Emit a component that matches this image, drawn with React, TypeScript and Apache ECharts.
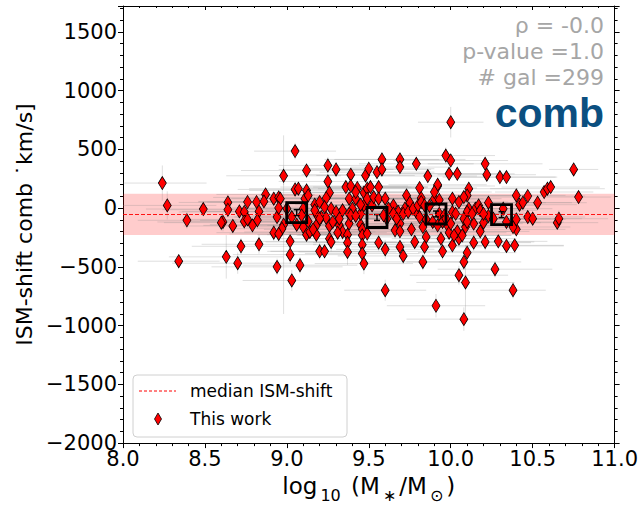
import React, { useEffect, useRef } from "react";
import * as echarts from "echarts";

// [log10 M*, ISM-shift (km/s), x error, y error]
const galaxies: number[][] = [
  [8.24, 213, 0.27, 150], [8.27, 23, 0.3, 120], [8.49, -8, 0.35, 60], [8.39, -104, 0.3, 70],
  [8.34, -452, 0.25, 60], [8.61, -118, 0.4, 80], [8.6, -124, 0.35, 70], [8.64, 48, 0.3, 60],
  [8.64, -14, 0.4, 50], [8.67, -152, 0.3, 60], [8.63, -415, 0.35, 185], [8.72, -325, 0.3, 70],
  [8.7, -469, 0.4, 90], [8.71, -28, 0.35, 60], [8.74, -33, 0.4, 50], [8.76, 52, 0.3, 60],
  [8.74, -113, 0.35, 70], [8.76, -96, 0.4, 60],
  [8.815, 52, 0.3, 50], [8.83, -28, 0.35, 60], [8.87, 116, 0.3, 50], [8.86, 57, 0.4, 60],
  [8.82, -104, 0.35, 70], [8.79, -147, 0.3, 60], [8.83, -308, 0.35, 80], [8.92, 80, 0.3, 50],
  [8.95, 91, 0.4, 60], [8.96, 80, 0.3, 50], [8.94, -76, 0.35, 60], [8.95, 1, 0.3, 70],
  [8.98, -141, 0.45, 760], [8.97, -175, 0.3, 60], [8.92, -209, 0.35, 70], [8.95, -220, 0.3, 60],
  [8.98, 275, 0.35, 80], [8.94, -500, 0.4, 70], [9.02, -283, 0.3, 60], [9.02, -396, 0.35, 80],
  [9.03, -616, 0.3, 90], [9.05, 485, 0.25, 70], [9.05, 159, 0.35, 60], [9.07, 165, 0.3, 50],
  [9.08, -486, 0.35, 70], [9.06, -141, 0.3, 60], [9.12, 320, 0.4, 60], [9.11, 80, 0.3, 50],
  [9.12, 150, 0.35, 60], [9.13, 108, 0.3, 50], [9.1, -161, 0.35, 70], [9.12, -226, 0.3, 60],
  [9.14, -203, 0.4, 60], [9.18, -147, 0.3, 50], [9.18, -48, 0.35, 60], [9.18, -226, 0.3, 70],
  [9.17, 29, 0.35, 60], [9.2, 52, 0.3, 50], [9.21, -76, 0.4, 60], [9.25, 363, 0.3, 70],
  [9.3, 329, 0.35, 60], [9.25, 227, 0.3, 60], [9.26, 131, 0.35, 50], [9.24, 86, 0.3, 60],
  [9.23, 9, 0.4, 50], [9.27, -5, 0.3, 60], [9.3, -33, 0.35, 50], [9.24, -84, 0.3, 60],
  [9.26, -152, 0.35, 70], [9.26, -260, 0.3, 60], [9.27, -288, 0.4, 80], [9.2, -368, 0.3, 70],
  [9.23, -368, 0.35, 60], [9.32, -147, 0.3, 60], [9.34, -203, 0.35, 70], [9.31, -209, 0.3, 60],
  [9.36, 179, 0.4, 60], [9.39, 284, 0.3, 50], [9.39, 188, 0.35, 60], [9.38, 80, 0.3, 50],
  [9.4, -5, 0.35, 60], [9.38, -48, 0.3, 50], [9.38, -132, 0.4, 60], [9.37, -226, 0.3, 70],
  [9.37, -294, 0.35, 60], [9.37, -373, 0.3, 110], [9.43, 171, 0.35, 60], [9.42, 80, 0.3, 50],
  [9.45, -141, 0.35, 60], [9.46, -181, 0.3, 70], [9.46, -232, 0.4, 60], [9.46, -311, 0.3, 80],
  [9.46, -387, 0.35, 70], [9.47, -472, 0.3, 90], [9.47, 131, 0.35, 60], [9.48, 278, 0.3, 60],
  [9.5, 335, 0.4, 60], [9.49, 165, 0.3, 50], [9.51, 179, 0.35, 60], [9.47, 23, 0.3, 50],
  [9.45, -48, 0.35, 60], [9.49, -217, 0.3, 70], [9.55, 306, 0.35, 60], [9.56, 179, 0.3, 50],
  [9.56, -294, 0.4, 70], [9.42, 137, 0.3, 60],
  [9.49, 80, 0.35, 50], [9.52, 23, 0.3, 60], [9.53, 94, 0.35, 50], [9.56, 80, 0.3, 60],
  [9.45, 29, 0.4, 50], [9.39, -62, 0.3, 60], [9.42, -67, 0.35, 50], [9.34, -19, 0.3, 60],
  [9.32, -90, 0.35, 50], [9.28, -118, 0.3, 60], [9.2, -90, 0.4, 50], [9.17, -19, 0.3, 60],
  [9.1, -5, 0.35, 50], [9.09, -62, 0.3, 60], [9.03, -76, 0.35, 50], [9.0, -5, 0.3, 60],
  [9.13, -113, 0.35, 50], [9.16, -181, 0.3, 60],
  [9.58, 414, 0.35, 60], [9.58, 329, 0.3, 60], [9.69, 414, 0.4, 60], [9.69, 349, 0.3, 50],
  [9.79, 377, 0.35, 60], [9.86, 273, 0.3, 60], [9.81, 171, 0.35, 50], [9.82, 86, 0.3, 60],
  [9.73, 108, 0.35, 50], [9.75, 46, 0.3, 60], [9.72, -5, 0.4, 50], [9.68, -33, 0.3, 60],
  [9.65, 23, 0.35, 50], [9.62, -5, 0.3, 60], [9.6, 80, 0.35, 50], [9.61, -90, 0.3, 60],
  [9.66, -189, 0.35, 70], [9.69, -132, 0.3, 60], [9.69, -198, 0.4, 60], [9.79, -33, 0.3, 50],
  [9.76, -181, 0.35, 60], [9.83, -161, 0.3, 60], [9.85, -245, 0.35, 70], [9.78, -288, 0.3, 60],
  [9.84, -330, 0.35, 70], [9.69, -330, 0.3, 60], [9.71, -407, 0.4, 70], [9.6, -351, 0.3, 80],
  [9.83, -458, 0.35, 70], [9.6, -699, 0.25, 90], [9.91, -831, 0.3, 100], [9.92, 188, 0.35, 60],
  [9.9, 80, 0.3, 50], [9.87, 18, 0.35, 60], [9.93, 70, 0.3, 50], [9.93, -48, 0.35, 60],
  [9.94, -260, 0.3, 60], [9.95, -368, 0.35, 70], [9.97, 447, 0.3, 70], [10.0, 405, 0.35, 60],
  [10.0, 731, 0.2, 130], [9.99, 292, 0.3, 60], [10.04, 292, 0.35, 60], [9.98, -147, 0.3, 50],
  [9.99, -209, 0.35, 60], [10.01, 80, 0.3, 50], [10.01, -33, 0.35, 60], [10.03, -48, 0.3, 50],
  [10.05, -260, 0.35, 70], [10.01, -317, 0.3, 60], [10.04, -198, 0.35, 60], [10.11, 165, 0.3, 50],
  [10.1, 108, 0.35, 60], [10.11, -5, 0.3, 50], [10.1, -33, 0.35, 60], [10.09, -161, 0.3, 60],
  [10.14, -294, 0.35, 70], [10.1, -379, 0.3, 60], [10.08, -458, 0.35, 70], [10.05, -571, 0.3, 80],
  [10.09, -633, 0.3, 320], [10.08, -945, 0.35, 100], [10.15, -5, 0.3, 50], [10.17, 23, 0.35, 60],
  [10.18, -198, 0.3, 60], [10.2, -124, 0.35, 50], [10.21, -288, 0.3, 70], [10.21, 377, 0.35, 60],
  [10.22, 284, 0.3, 60], [10.23, 46, 0.35, 50], [10.23, -67, 0.3, 60], [10.27, -520, 0.35, 70],
  [10.29, -283, 0.3, 60], [10.3, 264, 0.35, 60], [10.34, 264, 0.3, 50], [10.34, -322, 0.35, 60],
  [10.14, -132, 0.3, 50], [10.08, -90, 0.35, 60], [9.96, -62, 0.3, 50], [9.85, -96, 0.35, 60],
  [9.59, -62, 0.3, 50], [9.65, -48, 0.35, 60], [9.67, -90, 0.3, 50], [9.71, -48, 0.35, 60],
  [9.74, -33, 0.3, 50], [9.77, -5, 0.4, 60], [9.8, 23, 0.3, 50], [9.82, 52, 0.35, 60],
  [9.84, 23, 0.3, 50], [9.81, -76, 0.35, 60], [9.89, -118, 0.3, 50], [9.92, -147, 0.35, 60],
  [9.95, -118, 0.3, 50], [9.97, -90, 0.35, 60], [10.0, -132, 0.3, 50], [10.02, -232, 0.35, 60],
  [10.07, -232, 0.3, 60], [10.1, -118, 0.35, 50], [10.13, -48, 0.3, 60], [10.18, -19, 0.35, 50],
  [10.2, -48, 0.3, 60], [10.26, -90, 0.35, 50], [10.32, -5, 0.3, 60], [10.34, -118, 0.35, 50],
  [10.05, 52, 0.3, 60], [10.08, 94, 0.35, 50], [9.92, 199, 0.3, 60], [9.9, 137, 0.35, 50],
  [10.4, 108, 0.3, 60], [10.42, 29, 0.35, 50], [10.44, 46, 0.3, 60], [10.47, 103, 0.35, 50],
  [10.53, 46, 0.3, 60], [10.57, 137, 0.3, 50], [10.59, 165, 0.35, 60], [10.61, 179, 0.3, 50],
  [10.47, -76, 0.35, 60], [10.5, -90, 0.3, 50], [10.65, -124, 0.25, 60], [10.66, -90, 0.3, 70],
  [10.75, 329, 0.15, 50], [10.78, 94, 0.2, 50], [10.4, -181, 0.3, 60], [10.38, -161, 0.35, 50],
  [10.39, -317, 0.3, 60], [10.38, -699, 0.2, 70], [10.4, -96, 0.3, 50],
];

// binned medians [log10 M*, ISM-shift, y error]
const bins: number[][] = [
  [9.06, -38, 25], [9.55, -80, 25], [9.91, -50, 25], [10.31, -56, 25],
];

const medianShift = -53;
const bandLow = -228;
const bandHigh = 122;

const statLines = ["ρ = -0.0", "p-value =1.0", "# gal =299"];
const panelTag = "comb";

const xTicks = { min: 8, max: 11, interval: 0.5 };
const yTicks = { min: -2000, max: 1720, interval: 500 };

const FONT = "DejaVu Sans";

export default function App() {
  const ref = useRef<HTMLDivElement>(null);
  useEffect(() => {
    if (!ref.current) return;
    const chart = echarts.init(ref.current, undefined, { renderer: "svg" });
    const diamond = "path://M0,-10 L6,0 L0,10 L-6,0 Z";
    const axisBase = {
      type: "value" as const,
      axisLine: { show: true, onZero: false, lineStyle: { color: "#000", width: 1 } },
      splitLine: { show: false },
    };
    const option: any = {
      animation: false,
      backgroundColor: "#fff",
      grid: { left: 123, top: 6, right: 26, bottom: 63 },
      xAxis: [
        {
          ...axisBase,
          ...xTicks,
          position: "bottom",
          axisTick: { show: true, length: 5, inside: false, lineStyle: { color: "#000" } },
          minorTick: { show: true, splitNumber: 5, length: 3, lineStyle: { color: "#000" } },
          axisLabel: {
            fontSize: 21, color: "#000", fontFamily: FONT, margin: 5,
            formatter: (v: number) => v.toFixed(1),
          },
          name: "{n|log}{s|10}{n| (M}{s|∗}{n|/M}{s|⊙}{n|)}",
          nameLocation: "middle",
          nameGap: 29,
          nameTextStyle: {
            fontFamily: FONT, color: "#000",
            rich: {
              n: { fontSize: 23, fontFamily: FONT, color: "#000", padding: [0, 0, 6, 0], verticalAlign: "bottom" },
              s: { fontSize: 16, fontFamily: FONT, color: "#000", padding: [0, 3, 0, 3], verticalAlign: "bottom" },
            },
          },
        },
        {
          ...axisBase,
          ...xTicks,
          position: "top",
          axisTick: { show: true, length: 4, inside: true, lineStyle: { color: "#000" } },
          minorTick: { show: true, splitNumber: 5, length: 2, lineStyle: { color: "#000" } },
          axisLabel: { show: false },
        },
      ],
      yAxis: [
        {
          ...axisBase,
          ...yTicks,
          position: "left",
          axisTick: { show: true, length: 5, inside: false, lineStyle: { color: "#000" } },
          minorTick: { show: true, splitNumber: 5, length: 3, lineStyle: { color: "#000" } },
          axisLabel: {
            fontSize: 21, color: "#000", fontFamily: FONT, margin: 6, showMaxLabel: false,
            formatter: (v: number) => (v < 0 ? "\u2212" + Math.abs(v) : String(v)),
          },
          name: "ISM-shift comb ˙km/s]",
          nameLocation: "middle",
          nameGap: 86,
          nameTextStyle: { fontSize: 22, fontFamily: FONT, color: "#000" },
        },
        {
          ...axisBase,
          ...yTicks,
          position: "right",
          axisTick: { show: true, length: 5, inside: false, lineStyle: { color: "#000" } },
          minorTick: { show: true, splitNumber: 5, length: 3, lineStyle: { color: "#000" } },
          axisLabel: { show: false },
        },
      ],
      series: [
        {
          type: "scatter",
          name: "median ISM-shift",
          z: 1,
          data: [],
          itemStyle: { color: "#ff0000" },
          markArea: {
            silent: true,
            itemStyle: { color: "rgba(255,0,0,0.2)" },
            data: [[{ yAxis: bandHigh }, { yAxis: bandLow }]],
          },
          markLine: {
            silent: true,
            symbol: ["none", "none"],
            label: { show: false },
            lineStyle: { color: "#ff0000", type: [4, 2], width: 1, opacity: 0.9 },
            data: [{ yAxis: medianShift, lineStyle: { color: "#ff0000" } }],
          },
        },
        {
          type: "custom",
          name: "errors",
          xAxisIndex: 0,
          yAxisIndex: 0,
          z: 2,
          clip: true,
          data: galaxies,
          renderItem: (params: any, api: any) => {
            const x = api.value(0), y = api.value(1), xe = api.value(2), ye = api.value(3);
            const l = api.coord([x - xe, y]);
            const r = api.coord([x + xe, y]);
            const b = api.coord([x, y - ye]);
            const t = api.coord([x, y + ye]);
            const style = { stroke: "rgba(140,140,140,0.28)", lineWidth: 1, fill: null };
            return {
              type: "group",
              children: [
                { type: "line", shape: { x1: l[0], y1: l[1], x2: r[0], y2: r[1] }, style },
                { type: "line", shape: { x1: b[0], y1: b[1], x2: t[0], y2: t[1] }, style },
              ],
            };
          },
        },
        {
          type: "scatter",
          name: "This work",
          z: 3,
          data: galaxies.map((g) => [g[0], g[1]]),
          symbol: diamond,
          symbolSize: [8, 13],
          itemStyle: { color: "#ff0000", borderColor: "#000", borderWidth: 0.8, opacity: 1 },
        },
        {
          type: "custom",
          name: "binErr",
          z: 4,
          data: bins,
          renderItem: (params: any, api: any) => {
            const x = api.value(0), y = api.value(1), ye = api.value(2);
            const b = api.coord([x, y - ye]);
            const t = api.coord([x, y + ye]);
            const style = { stroke: "#000", lineWidth: 1.5 };
            return {
              type: "group",
              children: [
                { type: "line", shape: { x1: b[0], y1: b[1], x2: t[0], y2: t[1] }, style },
                { type: "line", shape: { x1: b[0] - 3, y1: b[1], x2: b[0] + 3, y2: b[1] }, style },
                { type: "line", shape: { x1: t[0] - 3, y1: t[1], x2: t[0] + 3, y2: t[1] }, style },
              ],
            };
          },
        },
        {
          type: "scatter",
          name: "bins",
          z: 5,
          data: bins.map((b) => [b[0], b[1]]),
          symbol: "rect",
          symbolSize: 20,
          itemStyle: { color: "rgba(0,0,0,0)", borderColor: "#000", borderWidth: 2.8, opacity: 1 },
        },
      ],
      graphic: [
        ...statLines.map((s, i) => ({
          type: "text",
          right: 37,
          top: 14 + i * 26,
          style: { text: s, fill: "#a6a6a6", fontSize: 22, fontFamily: FONT, textAlign: "right" },
          z: 10,
        })),
        {
          type: "text",
          right: 37,
          top: 92,
          style: {
            text: panelTag, fill: "#0b4f80", fontSize: 41, fontWeight: "bold",
            fontFamily: "Liberation Sans", textAlign: "right",
          },
          z: 10,
        },
        {
          type: "rect",
          shape: { x: 133, y: 375, width: 214, height: 62, r: 4 },
          style: { fill: "rgba(255,255,255,0.8)", stroke: "#d0d0d0", lineWidth: 1 },
          z: 20,
        },
        {
          type: "line",
          shape: { x1: 139, y1: 391, x2: 176, y2: 391 },
          style: { stroke: "#ff0000", lineWidth: 1, lineDash: [3, 2] },
          z: 21,
        },
        {
          type: "text",
          x: 190,
          y: 391,
          style: { text: "median ISM-shift", fill: "#000", fontSize: 17, fontFamily: FONT, textVerticalAlign: "middle" },
          z: 21,
        },
        {
          type: "polygon",
          shape: { points: [[158, 413], [161.5, 419], [158, 425], [154.5, 419]] },
          style: { fill: "#ff0000", stroke: "#000", lineWidth: 0.8 },
          z: 21,
        },
        {
          type: "text",
          x: 190,
          y: 419,
          style: { text: "This work", fill: "#000", fontSize: 17, fontFamily: FONT, textVerticalAlign: "middle" },
          z: 21,
        },
      ],
    };
    chart.setOption(option);
    return () => chart.dispose();
  }, []);
  return (
    <div
      ref={ref}
      style={{ position: "fixed", left: 0, top: 0, width: 641, height: 508, background: "#fff" }}
    />
  );
}
